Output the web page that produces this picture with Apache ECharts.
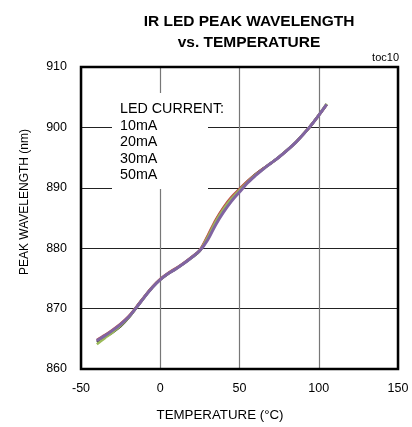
<!DOCTYPE html>
<html>
<head>
<meta charset="utf-8">
<script src="https://cdn.jsdelivr.net/npm/echarts@6/dist/echarts.min.js"></script>
<style>
html,body{margin:0;padding:0;background:#fff;}
#c{width:412px;height:427px;}
</style>
</head>
<body>
<div id="c"></div>
<script>
const titleLines = ['IR LED PEAK WAVELENGTH', 'vs. TEMPERATURE'];
const xTicks = [-50, 0, 50, 100, 150];
const yTicks = [860, 870, 880, 890, 900, 910];
const legendTitle = 'LED CURRENT:';
const seriesNames = ['10mA', '20mA', '30mA', '50mA'];
const temps = [-40, -35, -30, -25, -20, -15, -10, -5, 0, 5, 10, 15, 20, 25, 30, 35, 40, 45, 50, 55, 60, 65, 70, 75, 80, 85, 90, 95, 100, 105];
const wl10mA = [864.5, 865.3, 866.1, 867.1, 868.5, 870.2, 871.9, 873.5, 874.8, 875.8, 876.6, 877.5, 878.5, 879.6, 881.9, 884.5, 886.6, 888.3, 889.7, 891.0, 892.2, 893.2, 894.1, 895.1, 896.2, 897.4, 898.8, 900.3, 902.0, 903.8];
const wl20mA = [864.8, 865.6, 866.5, 867.5, 868.7, 870.3, 872.0, 873.6, 874.9, 875.9, 876.7, 877.6, 878.6, 879.7, 882.1, 884.7, 886.8, 888.5, 889.8, 891.1, 892.2, 893.2, 894.1, 895.1, 896.2, 897.4, 898.8, 900.3, 902.0, 903.8];
const wl30mA = [864.1, 865.1, 866.1, 867.2, 868.5, 870.2, 871.9, 873.5, 874.8, 875.8, 876.6, 877.5, 878.5, 879.6, 881.8, 884.4, 886.5, 888.2, 889.6, 890.9, 892.1, 893.1, 894.1, 895.1, 896.2, 897.4, 898.8, 900.3, 902.0, 903.9];
const wl50mA = [864.7, 865.5, 866.4, 867.4, 868.6, 870.2, 871.9, 873.5, 874.8, 875.8, 876.6, 877.5, 878.5, 879.6, 881.4, 883.9, 886.0, 887.8, 889.3, 890.8, 892.0, 893.1, 894.1, 895.1, 896.2, 897.4, 898.8, 900.3, 902.0, 903.8];
const seriesValues = [wl10mA, wl20mA, wl30mA, wl50mA];
const seriesColors = ['#1a1a1a', '#c0504d', '#9bbb59', '#8064a2'];

const FONT = "'Liberation Sans', Arial, sans-serif";
const chart = echarts.init(document.getElementById('c'), null, {renderer: 'canvas'});
const gridL = 81, gridT = 67, gridW = 317, gridH = 302;

chart.setOption({
  animation: false,
  backgroundColor: '#fff',
  title: {
    text: titleLines.join('\n'),
    left: 244, top: 6, textAlign: 'center',
    textStyle: {fontFamily: FONT, fontWeight: 'bold', fontSize: 15.5, lineHeight: 21, color: '#000'}
  },
  grid: {left: gridL, top: gridT, width: gridW, height: gridH, show: true, borderColor: '#000', borderWidth: 2.5, backgroundColor: 'transparent', z: 3},
  xAxis: {
    type: 'value', min: -50, max: 150, interval: 50,
    name: 'TEMPERATURE (°C)', nameLocation: 'middle', nameGap: 39.5,
    nameTextStyle: {fontFamily: FONT, fontSize: 13.3, color: '#000', padding: [0, 39, 0, 0]},
    axisLine: {show: false}, axisTick: {show: false},
    axisLabel: {fontFamily: FONT, fontSize: 12.5, color: '#000', margin: 13,
      formatter: v => xTicks.includes(v) ? String(v) : ''},
    splitLine: {show: true, lineStyle: {color: '#777', width: 1.2}}
  },
  yAxis: {
    type: 'value', min: 860, max: 910, interval: 10,
    name: 'PEAK WAVELENGTH (nm)', nameLocation: 'middle', nameGap: 50,
    nameTextStyle: {fontFamily: FONT, fontSize: 12, color: '#000', padding: [0, 0, 0, 32]},
    axisLine: {show: false}, axisTick: {show: false},
    axisLabel: {fontFamily: FONT, fontSize: 12.5, color: '#000', margin: 14,
      formatter: v => yTicks.includes(v) ? String(v) : ''},
    splitLine: {show: true, lineStyle: {color: '#222', width: 1.2}}
  },
  series: seriesNames.map((n, i) => ({
    name: n, type: 'line', smooth: 0.3, showSymbol: false,
    data: temps.map((t, j) => [t, seriesValues[i][j]]),
    lineStyle: {color: seriesColors[i], width: i === 3 ? 3 : 2.6},
    itemStyle: {color: seriesColors[i]},
    z: 4 + i
  })),
  graphic: [
    {type: 'rect', shape: {x: 112, y: 93, width: 96, height: 96}, style: {fill: '#fff'}, z: 10},
    {type: 'text', x: 120, y: 101, z: 11,
      style: {text: [legendTitle].concat(seriesNames).join('\n'), fontFamily: FONT, fontSize: 14.3, lineHeight: 16.5, fill: '#000'}},
    {type: 'text', x: 399, y: 52, z: 11,
      style: {text: 'toc10', fontFamily: FONT, fontSize: 11, fill: '#000', align: 'right'}}
  ]
});
</script>
</body>
</html>
